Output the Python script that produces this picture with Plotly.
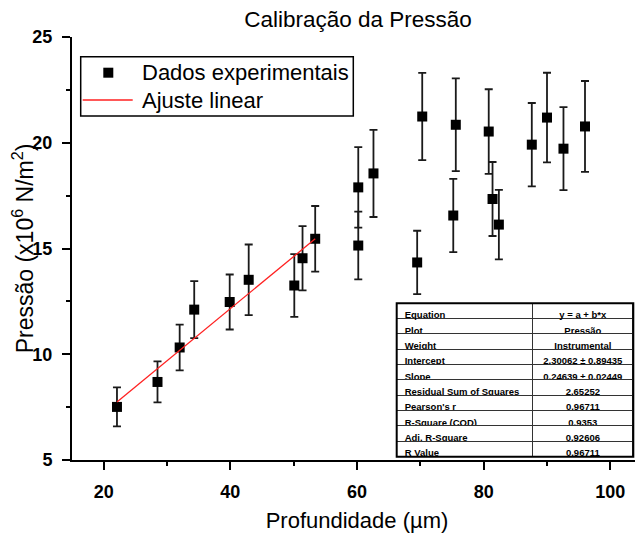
import plotly.graph_objects as go

# ---- data ----
depth_um = [22.1, 28.5, 32.0, 34.3, 39.9, 42.9, 50.1, 51.4, 53.4, 60.2, 60.2, 62.6,
            69.5, 70.3, 75.2, 75.6, 80.8, 81.4, 82.4, 87.6, 90.0, 92.6, 96.0]
pressure = [7.51, 8.69, 10.32, 12.11, 12.47, 13.52, 13.25, 14.54, 15.46, 15.14, 17.89, 18.55,
            14.34, 21.24, 16.56, 20.85, 20.53, 17.34, 16.13, 19.91, 21.19, 19.72, 20.77]
pressure_err = [0.92, 0.97, 1.08, 1.35, 1.30, 1.67, 1.48, 1.52, 1.55, 1.60, 1.90, 2.06,
                1.50, 2.06, 1.73, 2.19, 2.00, 1.75, 1.64, 1.97, 2.12, 1.96, 2.15]
n_fit_points = 9  # first points used by the linear fit

intercept = 2.30062
slope = 0.24639

series_names = ["Dados experimentais", "Ajuste linear"]

table_labels = ["Equation", "Plot", "Weight", "Intercept", "Slope",
                "Residual Sum of Squares", "Pearson's r", "R-Square (COD)",
                "Adj. R-Square", "R Value"]
table_values = ["y = a + b*x", "Pressão", "Instrumental", "2,30062 ± 0,89435",
                "0,24639 ± 0,02449", "2,65252", "0,96711", "0,9353", "0,92606", "0,96711"]

x_ticks = [20, 40, 60, 80, 100]
y_ticks = [5, 10, 15, 20, 25]

FONT = "Liberation Sans, Arial, sans-serif"
# the page body has an 8px margin, so the figure is sized to end at the window edge
W, H = 635, 525
ML, MR, MT, MB = 64, 1, 29, 73
PW, PH = W - ML - MR, H - MT - MB   # plot area size in px


def px_x(px):  # page pixel (x) -> paper coordinate
    return (px - 8 - ML) / PW


def px_y(py):  # page pixel (y) -> paper coordinate
    return 1 - (py - 8 - MT) / PH


fit_x = [min(depth_um[:n_fit_points]), max(depth_um[:n_fit_points])]
fit_y = [intercept + slope * v for v in fit_x]

fig = go.Figure()

fig.add_trace(go.Scatter(
    x=depth_um, y=pressure, mode="markers", name=series_names[0],
    marker=dict(symbol="square", size=10, color="black"),
    error_y=dict(type="data", array=pressure_err, visible=True,
                 color="#1a1a1a", thickness=1.8, width=4),
))
fig.add_trace(go.Scatter(
    x=fit_x, y=fit_y, mode="lines", name=series_names[1],
    line=dict(color="#ff2020", width=1.3),
))

# statistics table
tx0, tx1 = px_x(396.7), px_x(633.3)
ty0, ty1 = px_y(456.7), px_y(303.3)
row_h = 15.33
cell_font = dict(family=FONT, size=9.5, color="black", weight="bold")
fig.add_trace(go.Table(
    domain=dict(x=[tx0, tx1], y=[ty0, ty1]),
    columnwidth=[136.6, 100],
    header=dict(values=[table_labels[0], table_values[0]],
                align=["left", "center"], height=row_h,
                fill_color="white", line=dict(color="#333333", width=1),
                font=cell_font),
    cells=dict(values=[table_labels[1:], table_values[1:]],
               align=["left", "center"], height=row_h,
               fill_color="white", line=dict(color="#333333", width=1),
               font=cell_font),
))

axis_common = dict(showgrid=False, zeroline=False, showline=True,
                   linecolor="black", linewidth=2, tickcolor="black", tickwidth=2)

fig.update_layout(
    width=W, height=H,
    margin=dict(l=ML, r=MR, t=MT, b=MB, pad=0),
    paper_bgcolor="white", plot_bgcolor="white",
    font=dict(family=FONT, color="black"),
    showlegend=False,
    title=dict(text="Calibração da Pressão", x=(358 - 8) / W, xanchor="center",
               y=1 - (19 - 8) / H, yanchor="middle",
               font=dict(family=FONT, size=22.5, color="black")),
    xaxis=dict(range=[15, 105], tickvals=x_ticks, ticktext=[str(v) for v in x_ticks],
               ticks="outside", ticklen=8, ticklabelstandoff=6,
               tickfont=dict(family=FONT, size=18, weight="bold"),
               minor=dict(dtick=10, tick0=0, ticks="outside", ticklen=4,
                          tickwidth=2, tickcolor="black"),
               title=dict(text="Profundidade (µm)", standoff=12,
                          font=dict(family=FONT, size=22)),
               **axis_common),
    yaxis=dict(range=[5, 25], tickvals=y_ticks, ticktext=[str(v) for v in y_ticks],
               ticks="outside", ticklen=8, ticklabelstandoff=6,
               tickfont=dict(family=FONT, size=18, weight="bold"),
               minor=dict(dtick=2.5, tick0=0, ticks="outside", ticklen=4,
                          tickwidth=2, tickcolor="black"),
               title=dict(text="Pressão (x10<sup>6</sup> N/m<sup>2</sup>)", standoff=5,
                          font=dict(family=FONT, size=23)),
               **axis_common),
    xaxis2=dict(overlaying="x", side="top", anchor="y", range=[15, 105],
                tickvals=x_ticks, showticklabels=False, ticks="inside", ticklen=8,
                minor=dict(dtick=10, tick0=0, ticks="inside", ticklen=4,
                           tickwidth=2, tickcolor="black"),
                **axis_common),
    yaxis2=dict(overlaying="y", side="right", anchor="x", range=[5, 25],
                tickvals=y_ticks, showticklabels=False, ticks="inside", ticklen=8,
                minor=dict(dtick=2.5, tick0=0, ticks="inside", ticklen=4,
                           tickwidth=2, tickcolor="black"),
                **axis_common),
)

# thicker outer frame of the statistics table
fig.add_shape(type="rect", xref="paper", yref="paper",
              x0=tx0, x1=tx1, y0=ty0, y1=ty1,
              line=dict(color="black", width=2), layer="above")

# legend box (Origin style, drawn to match the reference spacing)
fig.add_shape(type="rect", xref="paper", yref="paper",
              x0=px_x(80.7), x1=px_x(353.3), y0=px_y(116), y1=px_y(56.7),
              line=dict(color="black", width=1.5), fillcolor="white", layer="above")
fig.add_shape(type="rect", xref="paper", yref="paper",
              xsizemode="pixel", ysizemode="pixel",
              xanchor=px_x(108.3), yanchor=px_y(72.7),
              x0=-5, x1=5, y0=-5, y1=5,
              line=dict(width=0), fillcolor="black", layer="above")
fig.add_shape(type="line", xref="paper", yref="paper",
              x0=px_x(82.7), x1=px_x(132.7), y0=px_y(100), y1=px_y(100),
              line=dict(color="#ff2020", width=1.5), layer="above")
for name, cy in zip(series_names, [72.7, 100]):
    fig.add_annotation(text=name, xref="paper", yref="paper",
                       x=px_x(140), y=px_y(cy), xanchor="left", yanchor="middle",
                       showarrow=False,
                       font=dict(family=FONT, size=22, color="black"))

fig.write_html("out.html")
